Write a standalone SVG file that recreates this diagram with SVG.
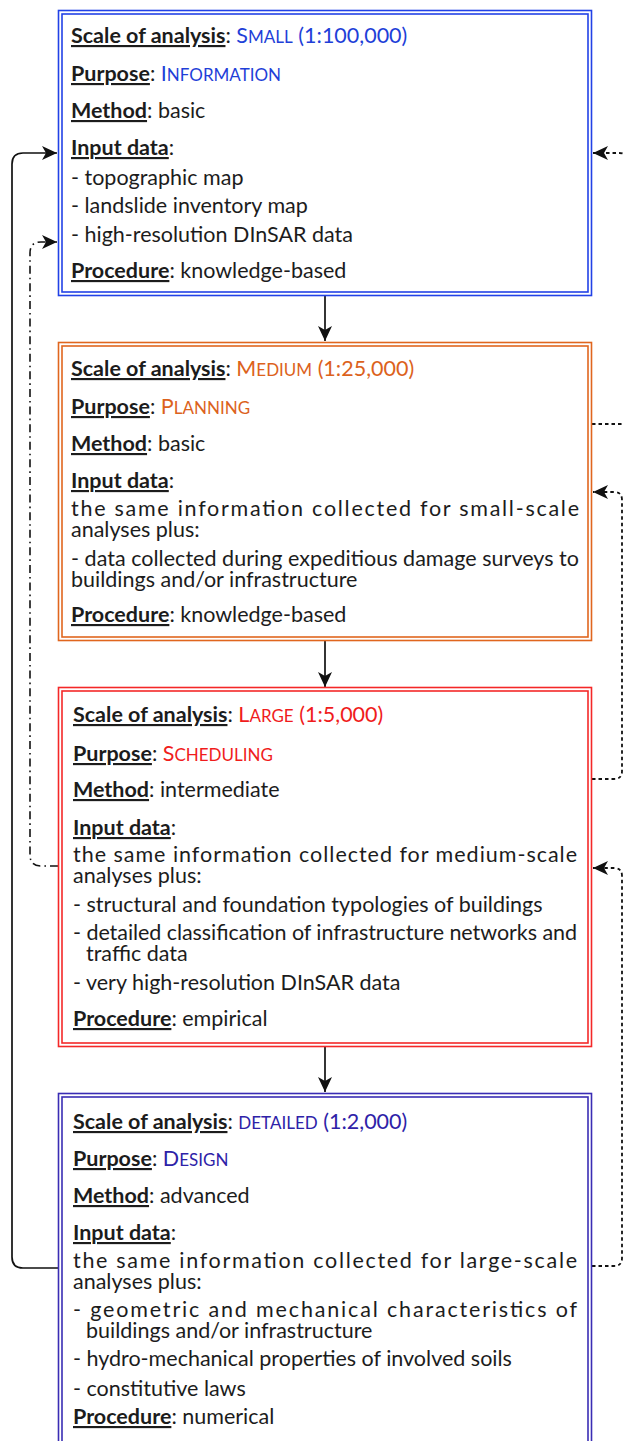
<svg xmlns="http://www.w3.org/2000/svg" width="624" height="1441" viewBox="0 0 624 1441">
<style>
text{font-family:Lato,"Liberation Sans",sans-serif;font-size:21.5px;fill:#1c1c1c}
.b{font-weight:bold;text-decoration:underline}
.sm{font-size:17px}
.o1{fill:none;stroke-width:1.6}
.c1{fill:#1f3fd8}.c2{fill:#dc621c}.c3{fill:#f01c1c}.c4{fill:#2e22a8}
.k1{stroke:#2242e6}.k2{stroke:#e0661e}.k3{stroke:#f42828}.k4{stroke:#3a2db4}
.solid{fill:none;stroke:#111;stroke-width:1.7}
.dd{fill:none;stroke:#111;stroke-width:1.6;stroke-dasharray:8 4 1.6 4}
.dot{fill:none;stroke:#111;stroke-width:1.8;stroke-dasharray:3.5 3}
</style>
<defs>
<marker id="ah" markerUnits="userSpaceOnUse" markerWidth="16" markerHeight="14" refX="15" refY="7" orient="auto">
<path d="M0,0 L15,7 L0,14 L4,7 z" fill="#111"/>
</marker>
</defs>

<g id="connectors">
<path class="solid" d="M325,296 V341" marker-end="url(#ah)"/>
<path class="solid" d="M325,641 V687" marker-end="url(#ah)"/>
<path class="solid" d="M325,1047 V1092" marker-end="url(#ah)"/>
<path class="solid" d="M58,1268 H23 Q12,1268 12,1257 V164 Q12,153 23,153 H57" marker-end="url(#ah)"/>
<path class="dd" d="M58,866 H41 Q30,866 30,855 V253 Q30,242 41,242 H57" marker-end="url(#ah)"/>
<path class="dot" d="M592,424 H619 Q628,424 628,415 V162 Q628,153 619,153 H593" marker-end="url(#ah)"/>
<path class="dot" d="M592,779 H614 Q622,779 622,771 V500 Q622,492 614,492 H593" marker-end="url(#ah)"/>
<path class="dot" d="M592,1266 H614 Q622,1266 622,1258 V876 Q622,868 614,868 H593" marker-end="url(#ah)"/>
</g>

<g id="small">
<rect class="o1 k1" x="58.5" y="10.5" width="533" height="285"/>
<rect class="o1 k1" x="62" y="14" width="526" height="278"/>
<text x="71" y="43"><tspan class="b">Scale of analysis</tspan>: <tspan class="c1">S<tspan class="sm">MALL</tspan> (1:100,000)</tspan></text>
<text x="71" y="81"><tspan class="b">Purpose</tspan>: <tspan class="c1">I<tspan class="sm">NFORMATION</tspan></tspan></text>
<text x="71" y="118"><tspan class="b">Method</tspan>: basic</text>
<text x="71" y="155"><tspan class="b">Input data</tspan>:</text>
<text x="71" y="185">- topographic map</text>
<text x="71" y="213">- landslide inventory map</text>
<text x="71" y="242">- high-resolution DInSAR data</text>
<text x="71" y="278"><tspan class="b">Procedure</tspan>: knowledge-based</text>
</g>

<g id="medium">
<rect class="o1 k2" x="58.5" y="342.5" width="533" height="298"/>
<rect class="o1 k2" x="62" y="346" width="526" height="291"/>
<text x="71" y="376"><tspan class="b">Scale of analysis</tspan>: <tspan class="c2">M<tspan class="sm">EDIUM</tspan> (1:25,000)</tspan></text>
<text x="71" y="414"><tspan class="b">Purpose</tspan>: <tspan class="c2">P<tspan class="sm">LANNING</tspan></tspan></text>
<text x="71" y="451"><tspan class="b">Method</tspan>: basic</text>
<text x="71" y="488"><tspan class="b">Input data</tspan>:</text>
<text x="71" y="516" textLength="508" lengthAdjust="spacing">the same information collected for small-scale</text>
<text x="71" y="537">analyses plus:</text>
<text x="71" y="566" textLength="508" lengthAdjust="spacing">- data collected during expeditious damage surveys to</text>
<text x="71" y="587">buildings and/or infrastructure</text>
<text x="71" y="622"><tspan class="b">Procedure</tspan>: knowledge-based</text>
</g>

<g id="large">
<rect class="o1 k3" x="58.5" y="687.5" width="533" height="359"/>
<rect class="o1 k3" x="62" y="691" width="526" height="352"/>
<text x="73" y="722"><tspan class="b">Scale of analysis</tspan>: <tspan class="c3">L<tspan class="sm">ARGE</tspan> (1:5,000)</tspan></text>
<text x="73" y="761"><tspan class="b">Purpose</tspan>: <tspan class="c3">S<tspan class="sm">CHEDULING</tspan></tspan></text>
<text x="73" y="797"><tspan class="b">Method</tspan>: intermediate</text>
<text x="73" y="835"><tspan class="b">Input data</tspan>:</text>
<text x="73" y="862" textLength="504" lengthAdjust="spacing">the same information collected for medium-scale</text>
<text x="73" y="883">analyses plus:</text>
<text x="73" y="912">- structural and foundation typologies of buildings</text>
<text x="73" y="940" textLength="504" lengthAdjust="spacing">- detailed classification of infrastructure networks and</text>
<text x="86" y="961">traffic data</text>
<text x="73" y="990">- very high-resolution DInSAR data</text>
<text x="73" y="1026"><tspan class="b">Procedure</tspan>: empirical</text>
</g>

<g id="detailed">
<rect class="o1 k4" x="58.5" y="1093.5" width="533" height="360"/>
<rect class="o1 k4" x="62" y="1097" width="526" height="360"/>
<text x="73" y="1129"><tspan class="b">Scale of analysis</tspan>: <tspan class="c4"><tspan class="sm">DETAILED</tspan> (1:2,000)</tspan></text>
<text x="73" y="1166"><tspan class="b">Purpose</tspan>: <tspan class="c4">D<tspan class="sm">ESIGN</tspan></tspan></text>
<text x="73" y="1203"><tspan class="b">Method</tspan>: advanced</text>
<text x="73" y="1240"><tspan class="b">Input data</tspan>:</text>
<text x="73" y="1268" textLength="504" lengthAdjust="spacing">the same information collected for large-scale</text>
<text x="73" y="1289">analyses plus:</text>
<text x="73" y="1317" textLength="504" lengthAdjust="spacing">- geometric and mechanical characteristics of</text>
<text x="86" y="1338">buildings and/or infrastructure</text>
<text x="73" y="1366">- hydro-mechanical properties of involved soils</text>
<text x="73" y="1396">- constitutive laws</text>
<text x="73" y="1424"><tspan class="b">Procedure</tspan>: numerical</text>
</g>
</svg>
